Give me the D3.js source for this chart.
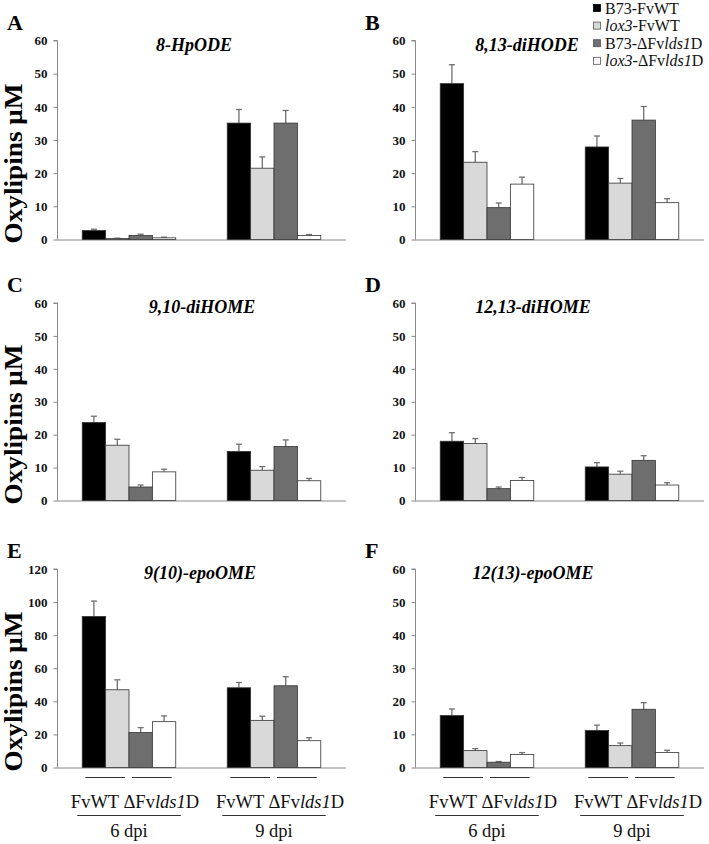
<!DOCTYPE html>
<html>
<head>
<meta charset="utf-8">
<script src="https://cdn.jsdelivr.net/npm/d3@7"></script>
<style>
  html, body { margin: 0; padding: 0; background: #fff; }
  svg { display: block; font-family: "Liberation Serif", "Times New Roman", serif; }
</style>
</head>
<body>
<svg id="chart" width="709" height="844"></svg>
<script>
// ---------------- DATA ----------------
const seriesNames = ["B73-FvWT", "lox3-FvWT", "B73-ΔFvlds1D", "lox3-ΔFvlds1D"];
const timepoints = ["6 dpi", "9 dpi"];
const strainLabels = ["FvWT", "ΔFvlds1D"];
const panelLetters = ["A", "B", "C", "D", "E", "F"];
const compounds = ["8-HpODE", "8,13-diHODE", "9,10-diHOME", "12,13-diHOME", "9(10)-epoOME", "12(13)-epoOME"];
const yMaxes = [60, 60, 60, 60, 120, 60];
const yTickSteps = [10, 10, 10, 10, 20, 10];

// values: 6 dpi (4 series) then 9 dpi (4 series)
const hpode8Mean     = [2.7, 0.3, 1.2, 0.5,   35.1, 21.5, 35.1, 1.2];
const hpode8Err      = [0.4, 0.1, 0.4, 0.2,   4.1, 3.4, 3.8, 0.3];
const dihode813Mean  = [47.0, 23.3, 9.6, 16.7, 27.9, 17.0, 36.0, 11.1];
const dihode813Err   = [5.7, 3.2, 1.4, 2.1,   3.3, 1.4, 4.1, 1.2];
const dihome910Mean  = [23.7, 16.8, 4.1, 8.7,  14.9, 9.2, 16.4, 6.0];
const dihome910Err   = [1.9, 1.8, 0.6, 0.8,   2.2, 1.1, 2.0, 0.7];
const dihome1213Mean = [18.0, 17.3, 3.6, 6.1,  10.2, 8.0, 12.2, 4.7];
const dihome1213Err  = [2.6, 1.5, 0.5, 0.9,   1.3, 0.9, 1.4, 0.7];
const epoome910Mean  = [91.3, 47.0, 21.1, 27.7, 48.2, 28.5, 49.4, 16.2];
const epoome910Err   = [9.3, 6.0, 3.0, 3.5,   3.2, 2.5, 5.5, 1.8];
const epoome1213Mean = [15.7, 5.1, 1.6, 3.9,  11.2, 6.6, 17.6, 4.5];
const epoome1213Err  = [2.0, 0.6, 0.2, 0.6,   1.6, 0.8, 2.0, 0.7];

const panelMeans = [hpode8Mean, dihode813Mean, dihome910Mean, dihome1213Mean, epoome910Mean, epoome1213Mean];
const panelErrs  = [hpode8Err, dihode813Err, dihome910Err, dihome1213Err, epoome910Err, epoome1213Err];

// ---------------- LAYOUT / STYLE ----------------
const colX = [{x0: 57, x1: 346}, {x0: 415, x1: 704}];
const rowY = [{top: 40.5, bottom: 239.5}, {top: 303, bottom: 500.5}, {top: 569, bottom: 767.5}];
const titleDX = [137, 112, 145, 118, 143, 118];
const fills = ["#000000", "#d9d9d9", "#6e6e6e", "#ffffff"];
const axisColor = "#8a8a8a";
const errColor = "#6f6f6f";

const svg = d3.select("#chart");

// helper: write a label with italic parts (lox3, lds1)
function richText(sel, label) {
  const parts = label.split(/(lox3|lds1)/).filter(s => s.length);
  parts.forEach(p => {
    sel.append("tspan").text(p).attr("font-style", (p === "lox3" || p === "lds1") ? "italic" : "normal");
  });
}

panelLetters.forEach((letter, i) => {
  const col = i % 2, row = Math.floor(i / 2);
  const {x0, x1} = colX[col];
  const {top, bottom} = rowY[row];
  const g = svg.append("g");

  const y = d3.scaleLinear().domain([0, yMaxes[i]]).range([bottom, top]);
  const x = d3.scaleBand().domain(timepoints).range([x0, x1]).paddingInner(0.355).paddingOuter(0.174);
  const xs = d3.scaleBand().domain(d3.range(seriesNames.length)).range([0, x.bandwidth()]).padding(0);

  // y axis
  const yAxis = d3.axisLeft(y).tickValues(d3.range(0, yMaxes[i] + 1, yTickSteps[i])).tickSize(4).tickPadding(6);
  const ya = g.append("g").attr("transform", `translate(${x0 + 0.5},0)`).call(yAxis)
    .attr("font-family", "Liberation Serif");
  ya.select(".domain").attr("stroke", axisColor).attr("d", `M-4,${top}H0V${bottom}`);
  ya.selectAll(".tick line").attr("stroke", axisColor);
  ya.selectAll(".tick text").attr("font-family", "Liberation Serif").attr("font-weight", "bold")
    .attr("font-size", 13).attr("fill", "#111");

  // x axis line
  g.append("line").attr("x1", x0).attr("x2", x1).attr("y1", bottom + 0.5).attr("y2", bottom + 0.5)
    .attr("stroke", axisColor).attr("stroke-width", 1);

  // bars
  const data = [];
  timepoints.forEach((t, ti) => seriesNames.forEach((s, si) => {
    data.push({t, si, v: panelMeans[i][ti * 4 + si], e: panelErrs[i][ti * 4 + si]});
  }));

  // error bars
  const eb = g.append("g");
  data.forEach(d => {
    const cx = x(d.t) + xs(d.si) + xs.bandwidth() / 2;
    eb.append("line").attr("x1", cx).attr("x2", cx).attr("y1", y(d.v)).attr("y2", y(d.v + d.e))
      .attr("stroke", errColor).attr("stroke-width", 1.3);
    eb.append("line").attr("x1", cx - 3).attr("x2", cx + 3).attr("y1", y(d.v + d.e)).attr("y2", y(d.v + d.e))
      .attr("stroke", errColor).attr("stroke-width", 1.3);
  });

  g.append("g").selectAll("rect").data(data).join("rect")
    .attr("x", d => x(d.t) + xs(d.si))
    .attr("y", d => y(d.v))
    .attr("width", xs.bandwidth())
    .attr("height", d => y(0) - y(d.v))
    .attr("fill", d => fills[d.si])
    .attr("stroke", "#333")
    .attr("stroke-width", 0.8);

  // panel letter
  g.append("text").attr("x", x0 - 50).attr("y", top - 11).text(letter)
    .attr("font-weight", "bold").attr("font-size", 22).attr("fill", "#000");

  // title
  g.append("text").attr("x", x0 + titleDX[i]).attr("y", top + 10).attr("text-anchor", "middle")
    .text(compounds[i]).attr("font-weight", "bold").attr("font-style", "italic")
    .attr("font-size", 18).attr("fill", "#000");

  // y label (left column)
  if (col === 0) {
    g.append("text")
      .attr("transform", `translate(22,${bottom - 76}) rotate(-90)`)
      .attr("text-anchor", "middle").text("Oxylipins μM")
      .attr("textLength", 160).attr("lengthAdjust", "spacingAndGlyphs")
      .attr("font-weight", "bold").attr("font-size", 26).attr("fill", "#000");
  }

  // bottom labels (last row)
  if (row === 2) {
    timepoints.forEach(t => {
      const gx = x(t);
      const half = x.bandwidth() / 2;
      [0, 1].forEach(k => {
        const a = gx + xs(k * 2), b = gx + xs(k * 2 + 1) + xs.bandwidth();
        g.append("line").attr("x1", a + 3).attr("x2", b - 4).attr("y1", bottom + 10).attr("y2", bottom + 10)
          .attr("stroke", "#333").attr("stroke-width", 1.2);
      });
      const lbl = g.append("text").attr("x", gx + half + 6).attr("y", bottom + 40)
        .attr("text-anchor", "middle").attr("font-size", 18.5).attr("fill", "#111");
      lbl.append("tspan").text(strainLabels[0] + " ");
      richText(lbl, strainLabels[1]);
      g.append("line").attr("x1", gx - 5).attr("x2", gx + x.bandwidth() + 5)
        .attr("y1", bottom + 48).attr("y2", bottom + 48).attr("stroke", "#333").attr("stroke-width", 1.2);
      g.append("text").attr("x", gx + half).attr("y", bottom + 69).attr("text-anchor", "middle")
        .attr("font-size", 18.5).attr("fill", "#111").text(t);
    });
  }
});

// legend
const legend = svg.append("g").attr("transform", "translate(593,0)");
seriesNames.forEach((s, si) => {
  const cy = 8 + si * 17.6;
  legend.append("rect").attr("x", 0.5).attr("y", cy - 3.5).attr("width", 7).attr("height", 7)
    .attr("fill", fills[si]).attr("stroke", si === 0 ? "#000" : "#555").attr("stroke-width", 0.8);
  const t = legend.append("text").attr("x", 12).attr("y", cy + 5.5).attr("font-size", 16).attr("fill", "#111");
  richText(t, s);
});
</script>
</body>
</html>
